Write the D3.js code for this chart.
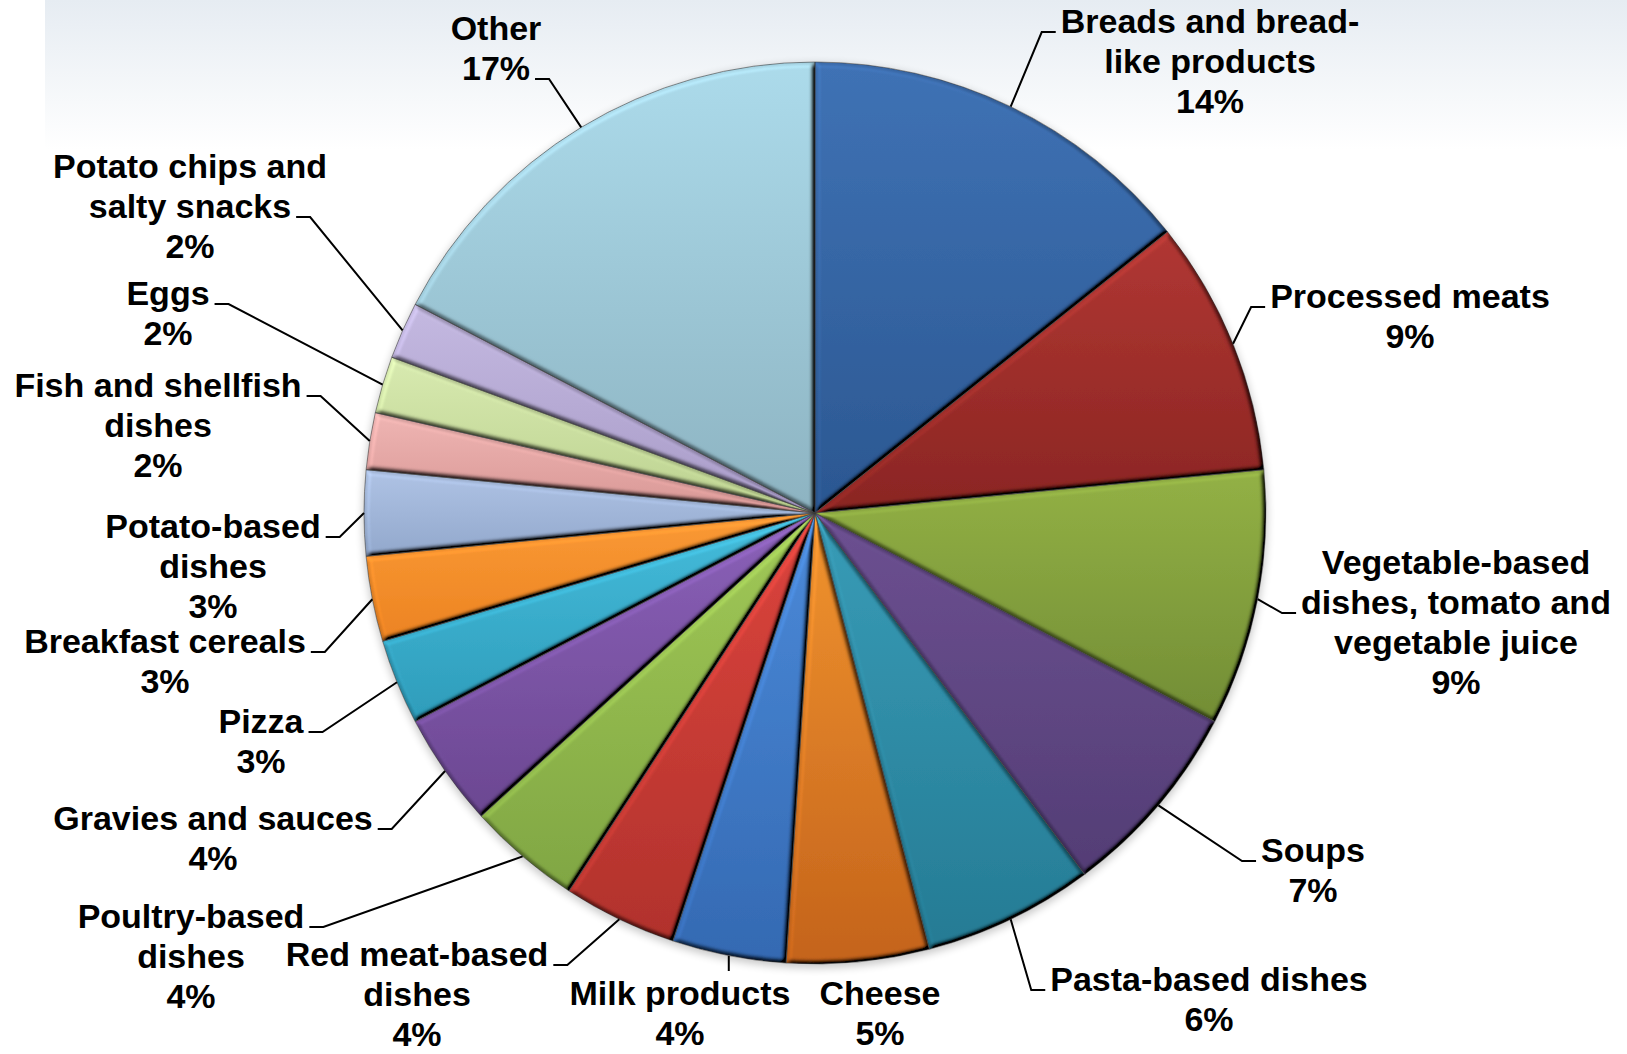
<!DOCTYPE html>
<html>
<head>
<meta charset="utf-8">
<script src="https://cdn.jsdelivr.net/npm/d3@7"></script>
<style>
  html, body { margin: 0; padding: 0; background: #ffffff; }
  svg { display: block; }
  .lbl { font-family: "Liberation Sans", Arial, Helvetica, sans-serif; font-weight: bold; font-size: 34px; fill: #000; }
</style>
</head>
<body>
<svg id="chart" width="1627" height="1054"></svg>
<script>
// Food categories, clockwise from 12 o'clock
const categories = [
  "Breads and bread-like products", "Processed meats",
  "Vegetable-based dishes, tomato and vegetable juice", "Soups",
  "Pasta-based dishes", "Cheese", "Milk products", "Red meat-based dishes",
  "Poultry-based dishes", "Gravies and sauces", "Pizza", "Breakfast cereals",
  "Potato-based dishes", "Fish and shellfish dishes", "Eggs",
  "Potato chips and salty snacks", "Other"
];

// Share of total, percent
const shares = [14, 9, 9, 7, 6, 5, 4, 4, 4, 4, 3, 3, 3, 2, 2, 2, 17];

// Wrapped label text for each category
const labelLines = [
  ["Breads and bread-", "like products"], ["Processed meats"],
  ["Vegetable-based", "dishes, tomato and", "vegetable juice"], ["Soups"],
  ["Pasta-based dishes"], ["Cheese"], ["Milk products"],
  ["Red meat-based", "dishes"], ["Poultry-based", "dishes"],
  ["Gravies and sauces"], ["Pizza"], ["Breakfast cereals"],
  ["Potato-based", "dishes"], ["Fish and shellfish", "dishes"], ["Eggs"],
  ["Potato chips and", "salty snacks"], ["Other"]
];

// Slice fills: [top, bottom] of each slice's vertical gradient
const palette = [
  ["#3f72b5", "#2b5791"], ["#b13733", "#8a2522"], ["#93b145", "#728d35"],
  ["#6c5091", "#533d75"], ["#389cb7", "#257b94"], ["#f1942f", "#c4631b"],
  ["#4b8ad9", "#3469b2"], ["#dc443d", "#b1322c"], ["#a1c957", "#80a643"],
  ["#8b61b9", "#6b4791"], ["#45bddc", "#2e9cba"], ["#fa9a35", "#ec8322"],
  ["#afc3e5", "#92a8cc"], ["#efb5b3", "#d89795"], ["#d8eab0", "#bbd18f"],
  ["#c4b9e1", "#a89bc7"], ["#acdbeb", "#8db3c1"]
];

// Label layout: centre x, first baseline, which side the leader enters, line it hooks to
const labelLayout = [
  { x: 1210, y: 33,   side: "right", hook: 0 },
  { x: 1410, y: 308,  side: "right", hook: 0 },
  { x: 1456, y: 574,  side: "right", hook: 1 },
  { x: 1313, y: 862,  side: "right", hook: 0 },
  { x: 1209, y: 991,  side: "right", hook: 0 },
  { x: 880,  y: 1005, side: "none",  hook: 0 },
  { x: 680,  y: 1005, side: "below", hook: 0 },
  { x: 417,  y: 966,  side: "left",  hook: 0 },
  { x: 191,  y: 928,  side: "left",  hook: 0 },
  { x: 213,  y: 830,  side: "left",  hook: 0 },
  { x: 261,  y: 733,  side: "left",  hook: 0 },
  { x: 165,  y: 653,  side: "left",  hook: 0 },
  { x: 213,  y: 538,  side: "left",  hook: 0 },
  { x: 158,  y: 397,  side: "left",  hook: 0 },
  { x: 168,  y: 305,  side: "left",  hook: 0 },
  { x: 190,  y: 178,  side: "left",  hook: 1 },
  { x: 496,  y: 40,   side: "left",  hook: 1 }
];

const W = 1627, H = 1054;
const cx = 815, cy = 513, R = 451;
const lineStep = 40;

const svg = d3.select("#chart");
const defs = svg.append("defs");

// soft wash behind the top of the chart
const wash = defs.append("linearGradient").attr("id", "wash")
  .attr("x1", 0).attr("y1", 0).attr("x2", 0).attr("y2", 1);
wash.append("stop").attr("offset", 0).attr("stop-color", "#e6ecf2");
wash.append("stop").attr("offset", 1).attr("stop-color", "#ffffff");
svg.append("rect").attr("x", 45).attr("y", 0).attr("width", W - 45).attr("height", 150)
  .attr("fill", "url(#wash)");

// per-slice vertical gradients
palette.forEach((c, i) => {
  const g = defs.append("linearGradient").attr("id", "fill" + i)
    .attr("x1", 0).attr("y1", 0).attr("x2", 0).attr("y2", 1);
  g.append("stop").attr("offset", 0).attr("stop-color", c[0]);
  g.append("stop").attr("offset", 1).attr("stop-color", c[1]);
});

// bevel: light from the upper left on a blurred alpha height map
const elev = 55;
const bevel = defs.append("filter").attr("id", "bevel")
  .attr("filterUnits", "userSpaceOnUse")
  .attr("x", -R - 20).attr("y", -R - 20).attr("width", 2 * R + 40).attr("height", 2 * R + 40);
bevel.append("feGaussianBlur").attr("in", "SourceAlpha").attr("stdDeviation", 2.4).attr("result", "blur");
const diffuse = bevel.append("feDiffuseLighting").attr("in", "blur")
  .attr("surfaceScale", 7).attr("diffuseConstant", 1)
  .attr("lighting-color", "#ffffff").attr("result", "light");
diffuse.append("feDistantLight").attr("azimuth", 225).attr("elevation", elev);
bevel.append("feComposite").attr("in", "SourceGraphic").attr("in2", "light")
  .attr("operator", "arithmetic")
  .attr("k1", 1 / Math.sin(elev * Math.PI / 180)).attr("k2", 0).attr("k3", 0).attr("k4", 0)
  .attr("result", "lit");
bevel.append("feComposite").attr("in", "lit").attr("in2", "SourceAlpha").attr("operator", "in");

// shadow under the pie
const shadow = defs.append("filter").attr("id", "shadow")
  .attr("x", "-10%").attr("y", "-10%").attr("width", "120%").attr("height", "120%");
shadow.append("feGaussianBlur").attr("stdDeviation", 4);

const pie = d3.pie().sort(null).value(d => d)
  .startAngle(0).endAngle(2 * Math.PI);
const arcs = pie(shares);

const arc = d3.arc().innerRadius(0).outerRadius(R);
const edgeArc = d3.arc().innerRadius(R).outerRadius(R);

const g = svg.append("g").attr("transform", `translate(${cx},${cy})`);

g.append("circle").attr("cx", 0).attr("cy", 3).attr("r", R + 1)
  .attr("fill", "#000").attr("opacity", 0.22).attr("filter", "url(#shadow)");

g.selectAll("path.slice").data(arcs).join("path")
  .attr("class", "slice")
  .attr("d", arc)
  .attr("fill", (d, i) => `url(#fill${i})`)
  .attr("filter", "url(#bevel)");

g.selectAll("path.edge").data(arcs).join("path")
  .attr("class", "edge")
  .attr("d", arc)
  .attr("fill", "none")
  .attr("stroke", "rgba(60,60,60,0.55)")
  .attr("stroke-width", 1);

// labels and leader lines
const labelG = svg.append("g");
const leaderG = svg.append("g");

arcs.forEach((d, i) => {
  const lay = labelLayout[i];
  const lines = labelLines[i].concat([shares[i] + "%"]);
  const texts = lines.map((t, k) =>
    labelG.append("text").attr("class", "lbl")
      .attr("x", lay.x).attr("y", lay.y + k * lineStep)
      .attr("text-anchor", "middle").text(t)
  );
  if (lay.side === "none") return;

  const [ex, ey] = edgeArc.centroid(d);
  const edge = [cx + ex, cy + ey];
  let pts;
  if (lay.side === "below") {
    pts = [edge, [edge[0], lay.y - 34]];
  } else {
    const w = texts[lay.hook].node().getComputedTextLength();
    const ty = lay.y + lay.hook * lineStep - 1;
    if (lay.side === "right") {
      const ax = lay.x - w / 2 - 5;
      pts = [edge, [ax - 14, ty], [ax, ty]];
    } else {
      const ax = lay.x + w / 2 + 5;
      pts = [edge, [ax + 14, ty], [ax, ty]];
    }
  }
  leaderG.append("path")
    .attr("d", d3.line()(pts))
    .attr("fill", "none")
    .attr("stroke", "#000")
    .attr("stroke-width", 2);
});
</script>
</body>
</html>
